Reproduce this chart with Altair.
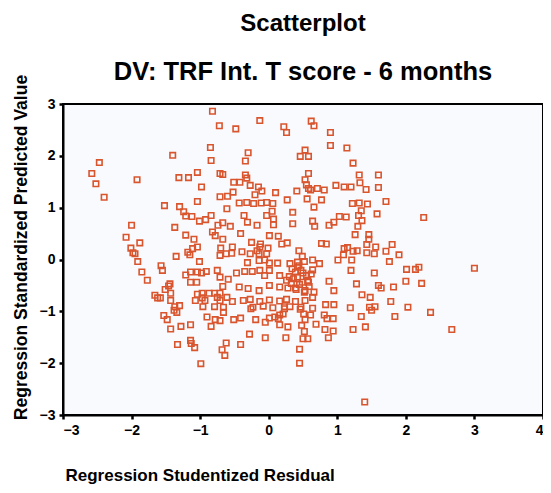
import altair as alt
import pandas as pd

# Regression Studentized Residual (x) and Regression Standardized Predicted Value (y)
residual = [
    -0.82, -0.72, -0.85, -1.40, -0.84, -2.47, -2.58, -2.52, -1.92, -1.31,
    -1.17, -1.04, -0.98, -2.40, -1.04, -0.71, -0.71, -1.52, -1.30, -0.48,
    -0.13, 0.22, 0.26, 0.62, 0.66, 0.90, 0.90, 1.14, -0.30, -0.34,
    0.53, 0.46, 0.58, 1.23, -0.67, -0.34, -0.32, -0.51, -0.42, -0.27,
    -0.15, -0.10, -0.20, -0.60, -0.52, 0.10, 0.41, 0.58, 0.53, 0.55,
    0.58, 0.61, 0.71, 0.81, 0.98, 1.10, 1.20, 1.32, 1.33, 1.42,
    1.60, 1.60, 0.27, 0.56, 0.77, -0.43, -0.32, -0.22, -0.11, -0.03,
    0.06, 1.22, 1.32, 1.44, 1.71, -0.61, 0.66, 1.58, -0.36, -0.31,
    -0.17, -0.03, 0.05, 0.07, 0.07, 0.35, 0.35, 0.64, 0.67, 0.88,
    0.95, 1.03, 1.13, 1.31, 1.35, 1.36, 1.30, 1.26, 1.46, 1.46,
    1.43, -0.67, -0.74, -0.56, -0.41, -0.67, -0.25, -0.12, 0.01, 0.14,
    0.19, 0.27, 0.44, 0.49, 0.77, 0.84, 1.10, 1.15, 1.23, 1.29,
    1.09, 1.01, 1.21, 1.43, 1.54, 1.56, -0.70, -0.53, -0.62, -0.54,
    -0.39, -0.27, -0.17, -0.14, -0.03, -0.13, -0.01, -0.31, -0.14, -0.06,
    0.01, 0.13, 0.31, 0.52, 0.64, 0.74, 0.34, 0.42, 0.64, 1.20,
    1.54, -0.75, -0.71, -0.59, -0.47, -0.35, -0.24, -0.13, 0.01, -0.06,
    0.16, 0.26, 0.39, 0.42, 0.49, 0.57, 0.88, 1.28, -0.67, -0.43,
    -0.30, -0.14, 0.01, 0.16, 0.28, 0.39, 0.53, 0.66, 0.95, 1.36,
    1.48, -0.75, -0.61, -0.53, -0.37, -0.27, -0.13, 0.01, 0.16, 0.26,
    0.39, 0.53, 0.64, 0.83, 0.95, 1.19, 1.55, -0.66, -0.23, -0.08,
    0.06, 0.23, 0.47, -1.24, -1.21, -1.12, -1.01, -0.92, -0.84, -2.00,
    -1.37, -1.21, -0.82, -0.78, -2.08, -1.88, -2.01, -1.98, -1.95, -1.91,
    -1.85, -1.77, -1.09, -1.04, -1.11, -1.18, -1.15, -1.35, -1.01, -0.71,
    -1.57, -1.55, -1.21, -1.14, -1.04, -0.98, -0.91, -1.14, -1.05, -1.44,
    -1.46, -1.51, -1.43, -1.66, -1.62, -1.58, -1.43, -1.37, -1.30, -1.04,
    -0.97, -0.87, -0.79, -0.71, -0.97, -0.93, -1.07, -0.96, -0.79, -0.71,
    2.26, 1.80, 1.71, 1.90, 1.76, 2.01, 2.14, 2.19, 3.00, 1.60,
    1.64, 1.82, 2.00, 2.23, 1.78, 2.03, 2.36, -1.53, -1.48, -1.38,
    -1.34, -1.43, -1.28, -1.14, -1.33, -1.14, -1.13, -1.08, -0.99, -0.90,
    -0.78, -0.84, -0.71, -0.68, -0.66, -0.51, -0.41, -0.26, -0.19, -0.28,
    -0.41, -0.62, -0.64, -0.05, -0.05, 0.01, 0.09, 0.14, 0.16, 0.21,
    0.16, 0.23, 0.31, 0.28, 0.25, 0.46, 0.51, 0.53, 0.61, 0.64,
    0.48, 0.52, 0.50, 0.57, 0.69, 0.81, 0.85, 0.94, 0.82, 0.94,
    0.87, 0.45, 0.45, 1.23, 1.35, 1.41, 1.47, 1.50, 1.40, 1.84,
    2.67, 0.47, 0.55, 0.45, 0.59, 0.36, 0.52, 0.42, 0.33, 0.62,
    0.30, 0.50, 0.40, 0.58, 0.44,
]

predicted = [
    2.86, 2.58, 2.16, 2.01, 1.91, 1.87, 1.66, 1.46, 1.54, 1.58,
    1.58, 1.68, 1.40, 1.20, 1.12, 1.66, 1.21, 1.04, 1.02, 2.52,
    2.68, 2.56, 2.45, 2.67, 2.58, 2.45, 2.20, 2.15, 2.06, 1.90,
    2.11, 1.99, 1.99, 1.86, 1.64, 1.63, 1.57, 1.49, 1.49, 1.43,
    1.40, 1.32, 1.25, 1.22, 1.30, 1.29, 1.32, 1.66, 1.54, 1.44,
    1.37, 1.34, 1.37, 1.34, 1.43, 1.40, 1.40, 1.63, 1.48, 1.35,
    1.63, 1.39, 1.15, 1.17, 1.15, 1.09, 1.10, 1.08, 1.09, 1.10,
    1.08, 1.08, 1.09, 1.07, 1.12, 0.98, 1.01, 0.88, 0.85, 0.72,
    0.66, 0.85, 0.93, 0.78, 0.67, 0.91, 0.69, 0.74, 0.64, 0.66,
    0.72, 0.83, 0.82, 0.85, 0.94, 0.75, 0.64, 0.48, 0.48, 0.39,
    0.29, 0.71, 0.66, 0.64, 0.50, 0.39, 0.33, 0.30, 0.46, 0.45,
    0.30, 0.32, 0.17, 0.06, 0.31, 0.30, 0.21, 0.23, 0.16, 0.17,
    0.09, -0.01, -0.01, 0.13, 0.11, 0.24, 0.22, 0.24, 0.11, 0.12,
    0.15, 0.11, 0.17, 0.11, 0.11, 0.24, 0.22, -0.06, -0.02, -0.01,
    -0.07, -0.07, -0.08, -0.04, -0.01, -0.08, -0.18, -0.15, -0.20, -0.21,
    -0.26, -0.21, -0.34, -0.38, -0.26, -0.23, -0.23, -0.21, -0.21, -0.31,
    -0.31, -0.40, -0.24, -0.34, -0.44, -0.40, -0.42, -0.47, -0.52, -0.53,
    -0.56, -0.60, -0.50, -0.53, -0.55, -0.55, -0.60, -0.63, -0.60, -0.68,
    -0.73, -0.73, -0.73, -0.81, -0.79, -0.77, -0.81, -0.78, -0.80, -0.77,
    -0.81, -0.79, -0.73, -0.87, -0.87, -0.93, -0.91, -0.92, -0.92, -0.90,
    -0.93, -0.91, -0.92, 0.92, 0.84, 0.83, 0.74, 0.77, 0.85, 0.66,
    0.62, 0.47, 0.53, 0.46, 0.43, 0.32, 0.22, 0.13, 0.11, -0.04,
    -0.24, -0.40, 0.39, 0.24, 0.21, 0.14, 0.09, 0.06, -0.04, 0.08,
    -0.12, -0.21, -0.30, -0.24, -0.24, -0.26, -0.23, -0.44, -0.44, -0.47,
    -0.51, -0.58, -0.65, -0.69, -0.74, -0.74, -0.79, -0.91, -0.89, -0.67,
    -0.65, -0.65, -0.65, -0.65, -0.74, -0.79, -0.79, -0.91, -0.91, -0.79,
    0.81, 0.29, 0.16, 0.09, -0.04, -0.19, -0.19, -0.15, -0.17, -0.50,
    -0.55, -0.53, -0.42, -0.46, -0.81, -0.92, -1.02, -1.08, -1.16, -0.98,
    -1.02, -1.34, -1.29, -1.26, -1.64, -1.56, -1.62, -1.70, -2.01, -1.11,
    -1.16, -1.29, -1.18, -1.74, -1.02, -1.16, -1.13, -0.95, -1.16, -1.44,
    -1.64, -1.61, -1.85, -1.21, -1.51, -1.13, -1.11, -1.14, -1.07, -1.05,
    -1.26, -0.95, -0.91, -1.30, -1.51, -0.96, -1.05, -1.16, -1.07, -0.94,
    -1.27, -1.39, -1.53, -1.53, -1.25, -1.07, -1.14, -1.14, -1.35, -1.38,
    -1.51, -1.73, -2.00, -1.35, -1.10, -1.30, -0.92, -0.98, -2.75, -1.10,
    -1.35, -0.21, -0.31, -0.48, -0.52, -0.37, -0.63, -0.05, -0.46, -0.28,
    -0.33, -0.26, -0.58, -0.44, -0.12,
]

x_ticks = [-3, -2, -1, 0, 1, 2, 3, 4]
y_ticks = [-3, -2, -1, 0, 1, 2, 3]

df = pd.DataFrame({"resid": residual, "pred": predicted})

FONT = "Liberation Sans"

chart = (
    alt.Chart(df)
    .mark_point(shape="square", filled=False, size=30, strokeWidth=1.6,
                color="#d9552e", opacity=1)
    .encode(
        x=alt.X(
            "resid:Q",
            scale=alt.Scale(domain=[-3, 4], nice=False, zero=False),
            axis=alt.Axis(
                values=x_ticks, format="d", grid=False,
                title="Regression Studentized Residual",
                titleX=2, titleY=65, titleAlign="left", titleBaseline="alphabetic",
                titleFontSize=17, labelPadding=4,
            ),
        ),
        y=alt.Y(
            "pred:Q",
            scale=alt.Scale(domain=[-3, 3], nice=False, zero=False),
            axis=alt.Axis(
                values=y_ticks, format="d", grid=False,
                title="Regression Standardized Predicted Value",
                titleX=-42, titleY=143, titleAngle=270, titleAlign="center",
                titleBaseline="middle", titleFontSize=17.5, labelPadding=4,
            ),
        ),
    )
    .properties(
        width=480,
        height=311,
        padding={"left": 55, "top": 96, "right": 0, "bottom": 70},
        autosize=alt.AutoSizeParams(type="none"),
        title=alt.TitleParams(
            text="Scatterplot",
            subtitle="DV: TRF Int. T score - 6 months",
            anchor="middle",
            font=FONT, fontSize=24, fontWeight="bold", color="black",
            subtitleFont=FONT, subtitleFontSize=25.5, subtitleFontWeight="bold",
            subtitleColor="black", subtitlePadding=24, offset=-11,
        ),
    )
    .configure_view(fill="#f8fafd", stroke="black", strokeWidth=2)
    .configure_axis(
        domainColor="black", domainWidth=2,
        tickColor="black", tickWidth=2.5, tickSize=4,
        labelFont=FONT, labelFontSize=14, labelFontWeight="bold", labelColor="black",
        titleFont=FONT, titleFontWeight="bold", titleColor="black",
    )
)

chart.save("out.html", embed_options={"renderer": "svg", "actions": False})
